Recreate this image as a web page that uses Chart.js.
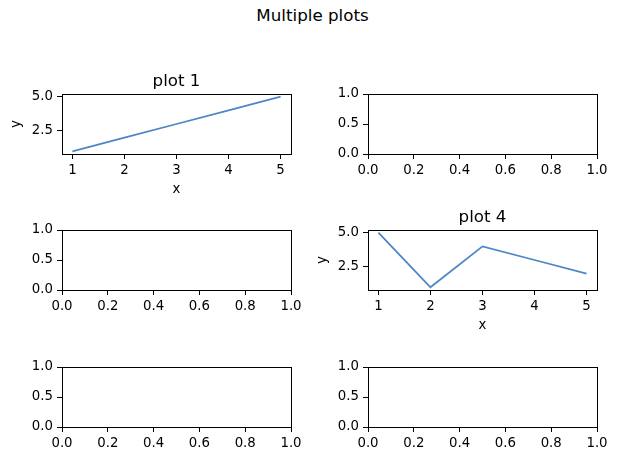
<!DOCTYPE html>
<html>
<head>
<meta charset="utf-8">
<script src="https://cdn.jsdelivr.net/npm/chart.js@4.4.1/dist/chart.umd.min.js"></script>
<style>
  html, body { margin: 0; padding: 0; background: #fff; }
  body { width: 625px; height: 462px; position: relative; overflow: hidden; font-family: "DejaVu Sans", sans-serif; }
  #suptitle { position: absolute; left: 0; width: 625px; top: 5px; text-align: center; font-size: 16.7px; color: #000; line-height: 20px; }
  canvas { position: absolute; }
</style>
</head>
<body>
<div id="suptitle">Multiple plots</div>
<canvas id="c1"></canvas>
<canvas id="c2"></canvas>
<canvas id="c3"></canvas>
<canvas id="c4"></canvas>
<canvas id="c5"></canvas>
<canvas id="c6"></canvas>
<script>
// ---- data ----
const xValues = [1, 2, 3, 4, 5];
const plot1Y = [1, 2, 3, 4, 5];
const plot4Y = [5, 1, 4, 3, 2];

const lineXTicks = [1, 2, 3, 4, 5];
const lineXTickLabels = ['1', '2', '3', '4', '5'];
const lineYTicks = [2.5, 5.0];
const lineYTickLabels = ['2.5', '5.0'];

const emptyXTicks = [0, 0.2, 0.4, 0.6, 0.8, 1.0];
const emptyXTickLabels = ['0.0', '0.2', '0.4', '0.6', '0.8', '1.0'];
const emptyYTicks = [0, 0.5, 1.0];
const emptyYTickLabels = ['0.0', '0.5', '1.0'];

const subplotTitles = ['plot 1', '', '', 'plot 4', '', ''];

// ---- layout (axes boxes) ----
const colLeft = [62, 368];
const rowTop = [94, 230, 367];
const axW = 229, axH = 60;
const PADL = 62, PADT = 40, PADR = 20, PADB = 50;

const tickFont = { family: 'DejaVu Sans', size: 13.3 };
const titleFontSize = 16.7;

const framePlugin = {
  id: 'frame',
  afterDraw(chart) {
    const a = chart.chartArea, ctx = chart.ctx;
    ctx.save();
    ctx.strokeStyle = '#000';
    ctx.lineWidth = 1;
    ctx.strokeRect(Math.round(a.left) + 0.5, Math.round(a.top) + 0.5, Math.round(a.right - a.left), Math.round(a.bottom - a.top));
    const t = chart.options.plugins.subTitle && chart.options.plugins.subTitle.text;
    if (t) {
      ctx.fillStyle = '#000';
      ctx.font = titleFontSize + 'px "DejaVu Sans"';
      ctx.textAlign = 'center';
      ctx.textBaseline = 'alphabetic';
      ctx.fillText(t, (a.left + a.right) / 2, a.top - 8.3);
    }
    ctx.restore();
  }
};

function makeScale(axis, min, max, ticks, labels, title) {
  const s = {
    type: 'linear',
    min: min, max: max,
    border: { display: false },
    grid: { drawOnChartArea: false, drawTicks: true, tickLength: 5, color: '#000', lineWidth: 1 },
    ticks: {
      color: '#000', font: tickFont, padding: 4, autoSkip: false, maxRotation: 0,
      callback: (v, i) => labels[i]
    },
    afterBuildTicks: (sc) => { sc.ticks = ticks.map(v => ({ value: v })); },
    afterFit: (sc) => { if (axis === 'x') sc.height = PADB; else sc.width = PADL; },
    title: title ? {
      display: true, text: title, color: '#000', font: { family: 'DejaVu Sans', size: 13.3 },
      padding: axis === 'x' ? { top: 0, bottom: 6 } : { top: 9, bottom: 0 }
    } : { display: false }
  };
  return s;
}

function makeChart(idx, row, col, ys) {
  const canvas = document.getElementById('c' + idx);
  const w = axW + PADL + PADR, h = axH + PADT + PADB;
  canvas.width = w; canvas.height = h;
  canvas.style.left = (colLeft[col] - PADL) + 'px';
  canvas.style.top = (rowTop[row] - PADT) + 'px';
  canvas.style.width = w + 'px'; canvas.style.height = h + 'px';
  const hasData = !!ys;
  const datasets = hasData ? [{
    data: xValues.map((x, i) => ({ x: x, y: ys[i] })),
    borderColor: '#4C86C6', borderWidth: 1.8, pointRadius: 0, tension: 0, fill: false
  }] : [];
  const scales = hasData ? {
    x: makeScale('x', 0.8, 5.2, lineXTicks, lineXTickLabels, 'x'),
    y: makeScale('y', 0.8, 5.2, lineYTicks, lineYTickLabels, 'y')
  } : {
    x: makeScale('x', 0, 1, emptyXTicks, emptyXTickLabels, null),
    y: makeScale('y', 0, 1, emptyYTicks, emptyYTickLabels, null)
  };
  new Chart(canvas, {
    type: 'line',
    data: { datasets: datasets },
    options: {
      responsive: false, animation: false, devicePixelRatio: 1,
      layout: { padding: { left: 0, top: PADT, right: PADR, bottom: 0 } },
      plugins: { legend: { display: false }, tooltip: { enabled: false }, title: { display: false },
        subTitle: { text: subplotTitles[idx - 1] } },
      scales: scales
    },
    plugins: [framePlugin]
  });
}

makeChart(1, 0, 0, plot1Y);
makeChart(2, 0, 1, null);
makeChart(3, 1, 0, null);
makeChart(4, 1, 1, plot4Y);
makeChart(5, 2, 0, null);
makeChart(6, 2, 1, null);
</script>
</body>
</html>
